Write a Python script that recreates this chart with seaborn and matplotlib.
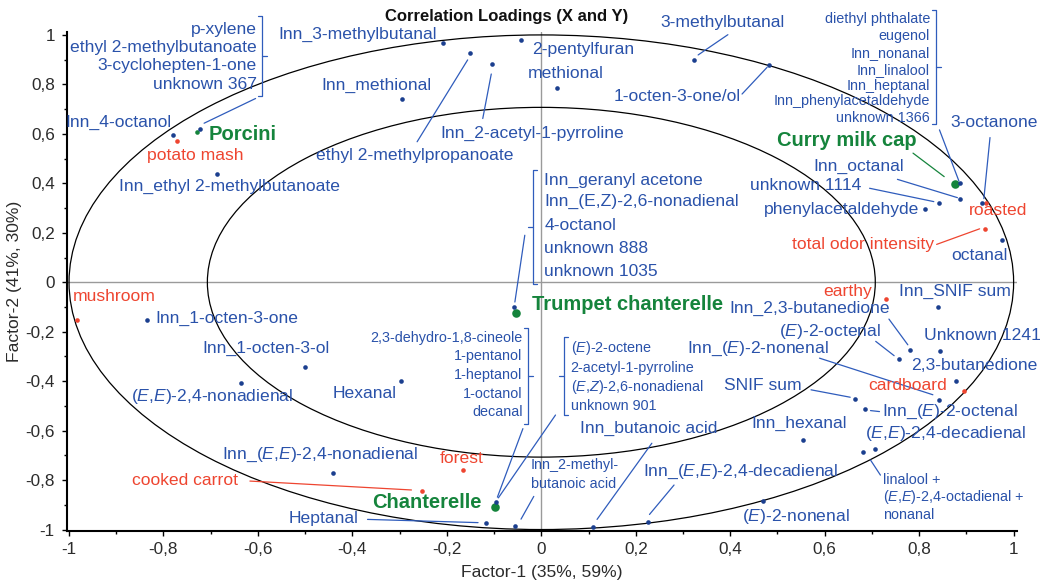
import numpy as np
import pandas as pd
import matplotlib
matplotlib.use("Agg")
import matplotlib.pyplot as plt
from matplotlib.patches import Circle
import seaborn as sns

# ---------------- data (loadings) ----------------
blue_names = ["p-xylene group", "Inn_4-octanol", "Inn_ethyl 2-methylbutanoate", "Inn_3-methylbutanal",
              "ethyl 2-methylpropanoate", "Inn_2-acetyl-1-pyrroline", "2-pentylfuran", "Inn_methional",
              "methional", "3-methylbutanal", "1-octen-3-one/ol", "diethyl phthalate group", "Inn_octanal",
              "unknown 1114", "phenylacetaldehyde", "3-octanone", "octanal", "geranyl acetone group",
              "Inn_1-octen-3-one", "Inn_1-octen-3-ol", "(E,E)-2,4-nonadienal", "Hexanal",
              "Inn_(E,E)-2,4-nonadienal", "cineole/octene groups", "Heptanal", "Inn_2-methylbutanoic acid",
              "Inn_butanoic acid", "Inn_(E,E)-2,4-decadienal", "(E)-2-nonenal", "Inn_hexanal",
              "linalool + octadienal + nonanal", "(E,E)-2,4-decadienal", "Inn_(E)-2-octenal", "SNIF sum",
              "Inn_(E)-2-nonenal", "2,3-butanedione", "Unknown 1241", "(E)-2-octenal",
              "Inn_2,3-butanedione", "Inn_SNIF sum"]
blue_x = [-0.723, -0.779, -0.687, -0.208, -0.150, -0.104, -0.042, -0.295, 0.034, 0.323, 0.483, 0.887,
          0.887, 0.841, 0.812, 0.932, 0.976, -0.057, -0.835, -0.501, -0.635, -0.298, -0.441, -0.096,
          -0.117, -0.056, 0.109, 0.226, 0.470, 0.553, 0.681, 0.706, 0.686, 0.665, 0.841, 0.877, 0.844,
          0.758, 0.781, 0.839]
blue_y = [0.619, 0.595, 0.439, 0.968, 0.926, 0.884, 0.981, 0.741, 0.784, 0.900, 0.880, 0.400, 0.335,
          0.319, 0.298, 0.319, 0.170, -0.102, -0.153, -0.343, -0.408, -0.401, -0.773, -0.887, -0.973,
          -0.984, -0.988, -0.968, -0.884, -0.639, -0.685, -0.674, -0.514, -0.472, -0.476, -0.401,
          -0.277, -0.311, -0.276, -0.100]

red_names = ["potato mash", "roasted", "total odor intensity", "mushroom", "earthy", "cardboard",
             "forest", "cooked carrot"]
red_x = [-0.771, 0.941, 0.939, -0.984, 0.729, 0.894, -0.166, -0.253]
red_y = [0.572, 0.321, 0.217, -0.153, -0.066, -0.439, -0.761, -0.846]

green_names = ["Porcini", "Curry milk cap", "Trumpet chanterelle", "Chanterelle"]
green_x = [-0.729, 0.875, -0.053, -0.098]
green_y = [0.608, 0.397, -0.124, -0.910]

x_ticks = [-1, -0.8, -0.6, -0.4, -0.2, 0, 0.2, 0.4, 0.6, 0.8, 1]
x_tick_labels = ["-1", "-0,8", "-0,6", "-0,4", "-0,2", "0", "0,2", "0,4", "0,6", "0,8", "1"]
y_ticks = [-1, -0.8, -0.6, -0.4, -0.2, 0, 0.2, 0.4, 0.6, 0.8, 1]
y_tick_labels = ["-1", "-0,8", "-0,6", "-0,4", "-0,2", "0", "0,2", "0,4", "0,6", "0,8", "1"]

# ---------------- style ----------------
sns.set_style("ticks")
plt.rcParams["font.family"] = ["Liberation Sans", "DejaVu Sans"]
plt.rcParams["mathtext.fontset"] = "custom"
plt.rcParams["mathtext.rm"] = "Liberation Sans"
plt.rcParams["mathtext.it"] = "Liberation Sans:italic"
plt.rcParams["mathtext.bf"] = "Liberation Sans:bold"

NAVY = "#1b3f8f"
BLUE = "#2a52aa"
LINEBLUE = "#2f5cbc"
RED = "#ee4530"
GREEN = "#15843c"
AXTXT = "#2b2b2b"

fig = plt.figure(figsize=(10.5, 5.83), dpi=100)
ax = fig.add_axes([0.0635, 0.090, 0.905, 0.8556])
ax.set_xlim(-1.005, 1.007)
ax.set_ylim(-1.004, 1.013)

# reference lines and circles
ax.axhline(0, color="#9a9a9a", lw=1.0, zorder=1)
ax.axvline(0, color="#9a9a9a", lw=1.0, zorder=1)
ax.add_patch(Circle((0, 0), 1.0, fill=False, ec="black", lw=0.9, zorder=2))
ax.add_patch(Circle((0, 0), np.sqrt(0.5), fill=False, ec="black", lw=0.9, zorder=2))

# points
df = pd.concat([
    pd.DataFrame({"name": blue_names, "x": blue_x, "y": blue_y, "grp": "blue"}),
    pd.DataFrame({"name": red_names, "x": red_x, "y": red_y, "grp": "red"}),
    pd.DataFrame({"name": green_names, "x": green_x, "y": green_y, "grp": "green"}),
], ignore_index=True)

gdf = df[df.grp == "green"]
big = gdf[gdf.name != "Porcini"]
small = gdf[gdf.name == "Porcini"]
sns.scatterplot(data=big, x="x", y="y", color=GREEN, s=38, linewidth=0, ax=ax, zorder=5, legend=False)
sns.scatterplot(data=small, x="x", y="y", color=GREEN, s=11, linewidth=0, ax=ax, zorder=5, legend=False)
sns.scatterplot(data=df[df.grp == "red"], x="x", y="y", color=RED, s=11, linewidth=0, ax=ax,
                zorder=6, legend=False)
sns.scatterplot(data=df[df.grp == "blue"], x="x", y="y", color=NAVY, s=11, linewidth=0, ax=ax,
                zorder=6, legend=False)

# ---------------- annotation layout ----------------
E = r"$\mathit{E}$"
Z = r"$\mathit{Z}$"
STY = {"b": dict(color=BLUE, fontsize=12.6),
       "s": dict(color=BLUE, fontsize=10.4),
       "r": dict(color=RED, fontsize=12.6),
       "g": dict(color=GREEN, fontsize=14.5, fontweight="bold")}

labels = [
    ("Inn_4-octanol", -0.782, 0.646, "right", "b"),
    ("potato mash", -0.733, 0.511, "center", "r"),
    ("Porcini", -0.704, 0.599, "left", "g"),
    ("Inn_ethyl 2-methylbutanoate", -0.66, 0.386, "center", "b"),
    ("p-xylene", -0.603, 1.022, "right", "b"),
    ("ethyl 2-methylbutanoate", -0.603, 0.949, "right", "b"),
    ("3-cyclohepten-1-one", -0.603, 0.876, "right", "b"),
    ("unknown 367", -0.603, 0.801, "right", "b"),
    ("Inn_3-methylbutanal", -0.39, 1.004, "center", "b"),
    ("Inn_methional", -0.349, 0.797, "center", "b"),
    ("ethyl 2-methylpropanoate", -0.269, 0.514, "center", "b"),
    ("Inn_2-acetyl-1-pyrroline", -0.02, 0.603, "center", "b"),
    ("2-pentylfuran", -0.02, 0.943, "left", "b"),
    ("methional", -0.029, 0.846, "left", "b"),
    ("3-methylbutanal", 0.384, 1.051, "center", "b"),
    ("1-octen-3-one/ol", 0.423, 0.751, "right", "b"),
    ("diethyl phthalate", 0.823, 1.065, "right", "s"),
    ("eugenol", 0.823, 0.995, "right", "s"),
    ("Inn_nonanal", 0.823, 0.927, "right", "s"),
    ("Inn_linalool", 0.823, 0.858, "right", "s"),
    ("Inn_heptanal", 0.823, 0.795, "right", "s"),
    ("Inn_phenylacetaldehyde", 0.823, 0.731, "right", "s"),
    ("unknown 1366", 0.823, 0.664, "right", "s"),
    ("3-octanone", 0.866, 0.646, "left", "b"),
    ("Curry milk cap", 0.794, 0.572, "right", "g"),
    ("Inn_octanal", 0.767, 0.468, "right", "b"),
    ("unknown 1114", 0.677, 0.393, "right", "b"),
    ("phenylacetaldehyde", 0.800, 0.295, "right", "b"),
    ("roasted", 0.905, 0.292, "left", "r"),
    ("total odor intensity", 0.831, 0.153, "right", "r"),
    ("octanal", 0.867, 0.108, "left", "b"),
    ("Inn_geranyl acetone", 0.006, 0.410, "left", "b"),
    ("Inn_(E,Z)-2,6-nonadienal", 0.006, 0.325, "left", "b"),
    ("4-octanol", 0.006, 0.230, "left", "b"),
    ("unknown 888", 0.006, 0.137, "left", "b"),
    ("unknown 1035", 0.006, 0.045, "left", "b"),
    ("mushroom", -0.992, -0.059, "left", "r"),
    ("Inn_1-octen-3-one", -0.817, -0.145, "left", "b"),
    ("Inn_1-octen-3-ol", -0.584, -0.266, "center", "b"),
    ("(" + E + "," + E + ")-2,4-nonadienal", -0.698, -0.462, "center", "b"),
    ("Hexanal", -0.306, -0.449, "right", "b"),
    ("2,3-dehydro-1,8-cineole", -0.040, -0.226, "right", "s"),
    ("1-pentanol", -0.040, -0.300, "right", "s"),
    ("1-heptanol", -0.040, -0.377, "right", "s"),
    ("1-octanol", -0.040, -0.453, "right", "s"),
    ("decanal", -0.040, -0.526, "right", "s"),
    ("(" + E + ")-2-octene", 0.062, -0.266, "left", "s"),
    ("2-acetyl-1-pyrroline", 0.062, -0.347, "left", "s"),
    ("(" + E + "," + Z + ")-2,6-nonadienal", 0.062, -0.424, "left", "s"),
    ("unknown 901", 0.062, -0.500, "left", "s"),
    ("Trumpet chanterelle", -0.02, -0.09, "left", "g"),
    ("Inn_(" + E + "," + E + ")-2,4-nonadienal", -0.469, -0.699, "center", "b"),
    ("forest", -0.169, -0.712, "center", "r"),
    ("cooked carrot", -0.643, -0.800, "right", "r"),
    ("Chanterelle", -0.127, -0.892, "right", "g"),
    ("Heptanal", -0.387, -0.955, "right", "b"),
    ("Inn_2-methyl-", -0.022, -0.741, "left", "s"),
    ("butanoic acid", -0.022, -0.815, "left", "s"),
    ("Inn_butanoic acid", 0.228, -0.593, "center", "b"),
    ("Inn_(" + E + "," + E + ")-2,4-decadienal", 0.422, -0.766, "center", "b"),
    ("(" + E + ")-2-nonenal", 0.539, -0.946, "center", "b"),
    ("Inn_hexanal", 0.546, -0.570, "center", "b"),
    ("linalool +", 0.723, -0.800, "left", "s"),
    ("(" + E + "," + E + ")-2,4-octadienal +", 0.723, -0.870, "left", "s"),
    ("nonanal", 0.723, -0.943, "left", "s"),
    ("(" + E + "," + E + ")-2,4-decadienal", 0.686, -0.611, "left", "b"),
    ("Inn_(" + E + ")-2-octenal", 0.722, -0.526, "left", "b"),
    ("SNIF sum", 0.552, -0.419, "right", "b"),
    ("cardboard", 0.858, -0.419, "right", "r"),
    ("Inn_(" + E + ")-2-nonenal", 0.458, -0.270, "center", "b"),
    ("2,3-butanedione", 0.784, -0.338, "left", "b"),
    ("Unknown 1241", 0.811, -0.216, "left", "b"),
    ("(" + E + ")-2-octenal", 0.720, -0.199, "right", "b"),
    ("Inn_2,3-butanedione", 0.568, -0.104, "center", "b"),
    ("Inn_SNIF sum", 0.758, -0.039, "left", "b"),
    ("earthy", 0.700, -0.036, "right", "r"),
]
for txt, tx, ty, ha, k in labels:
    ax.text(tx, ty, txt, ha=ha, va="center", zorder=7, clip_on=False, **STY[k])

# leader lines: (x0, y0, x1, y1, colour)
leaders = [
    (-0.605, 0.743, -0.714, 0.643, LINEBLUE),
    (-0.263, 0.568, -0.156, 0.899, LINEBLUE),
    (-0.124, 0.662, -0.106, 0.842, LINEBLUE),
    (0.395, 1.001, 0.332, 0.919, LINEBLUE),
    (0.425, 0.761, 0.478, 0.869, LINEBLUE),
    (0.843, 0.616, 0.884, 0.410, LINEBLUE),
    (0.787, 0.522, 0.853, 0.427, GREEN),
    (0.950, 0.585, 0.937, 0.338, LINEBLUE),
    (0.754, 0.416, 0.881, 0.342, LINEBLUE),
    (0.695, 0.380, 0.831, 0.326, LINEBLUE),
    (0.837, 0.153, 0.928, 0.216, RED),
    (-0.035, 0.190, -0.056, -0.080, LINEBLUE),
    (-0.039, -0.592, -0.093, -0.869, LINEBLUE),
    (0.030, -0.537, -0.091, -0.872, LINEBLUE),
    (-0.617, -0.804, -0.275, -0.840, RED),
    (-0.368, -0.959, -0.134, -0.972, LINEBLUE),
    (-0.016, -0.866, -0.043, -0.958, LINEBLUE),
    (0.234, -0.651, 0.118, -0.959, LINEBLUE),
    (0.281, -0.820, 0.229, -0.939, LINEBLUE),
    (0.718, -0.780, 0.697, -0.719, LINEBLUE),
    (0.697, -0.519, 0.716, -0.523, LINEBLUE),
    (0.571, -0.435, 0.654, -0.465, LINEBLUE),
    (0.589, -0.307, 0.829, -0.455, LINEBLUE),
    (0.708, -0.239, 0.747, -0.297, LINEBLUE),
    (0.736, -0.149, 0.776, -0.253, LINEBLUE),
]
for x0, y0, x1, y1, c in leaders:
    ax.plot([x0, x1], [y0, y1], color=c, lw=0.9, zorder=3, clip_on=False)

# brackets: (x, y_top, y_bottom, side) side=+1 tips point left ("]"), -1 tips point right ("[")
brackets = [
    (-0.592, 1.076, 0.754, 1),
    (0.835, 1.099, 0.639, 1),
    (-0.018, 0.453, -0.008, -1),
    (-0.028, -0.185, -0.573, 1),
    (0.048, -0.222, -0.536, -1),
]
tip = 0.008
for bx, yt, yb, side in brackets:
    xs = [bx - side * tip, bx, bx, bx - side * tip]
    ys = [yt, yt, yb, yb]
    ax.plot(xs, ys, color=LINEBLUE, lw=0.9, zorder=3, clip_on=False)
    ym = (yt + yb) / 2
    ax.plot([bx, bx + side * tip * 1.3], [ym, ym], color=LINEBLUE, lw=0.9, zorder=3, clip_on=False)

# ---------------- axes decoration ----------------
sns.despine(ax=ax)
for sp in ["left", "bottom"]:
    ax.spines[sp].set_linewidth(1.5)
    ax.spines[sp].set_color("black")
ax.set_xticks(x_ticks)
ax.set_xticklabels(x_tick_labels)
ax.set_yticks(y_ticks)
ax.set_yticklabels(y_tick_labels)
ax.set_xticks(np.arange(-0.9, 1.0, 0.2), minor=True)
ax.set_yticks(np.arange(-0.9, 1.0, 0.2), minor=True)
ax.tick_params(axis="both", which="major", direction="out", length=3.5, width=1, color="black",
               labelsize=12.3, labelcolor=AXTXT, pad=5)
ax.tick_params(axis="both", which="minor", direction="out", length=2.5, width=1, color="black")
ax.set_xlabel("")
ax.set_ylabel("")

fig.text(541.5 / 1050, 1 - 572 / 583, "Factor-1 (35%, 59%)", ha="center", va="center",
         fontsize=12.6, color=AXTXT)
fig.text(15 / 1050, 1 - 281 / 583, "Factor-2 (41%, 30%)", ha="center", va="center",
         rotation=90, fontsize=12.6, color=AXTXT)
fig.text(507 / 1050, 1 - 16 / 583, "Correlation Loadings (X and Y)", ha="center", va="center",
         fontsize=12, fontweight="bold", color="#111111")

fig.savefig("out.png", dpi=100)
